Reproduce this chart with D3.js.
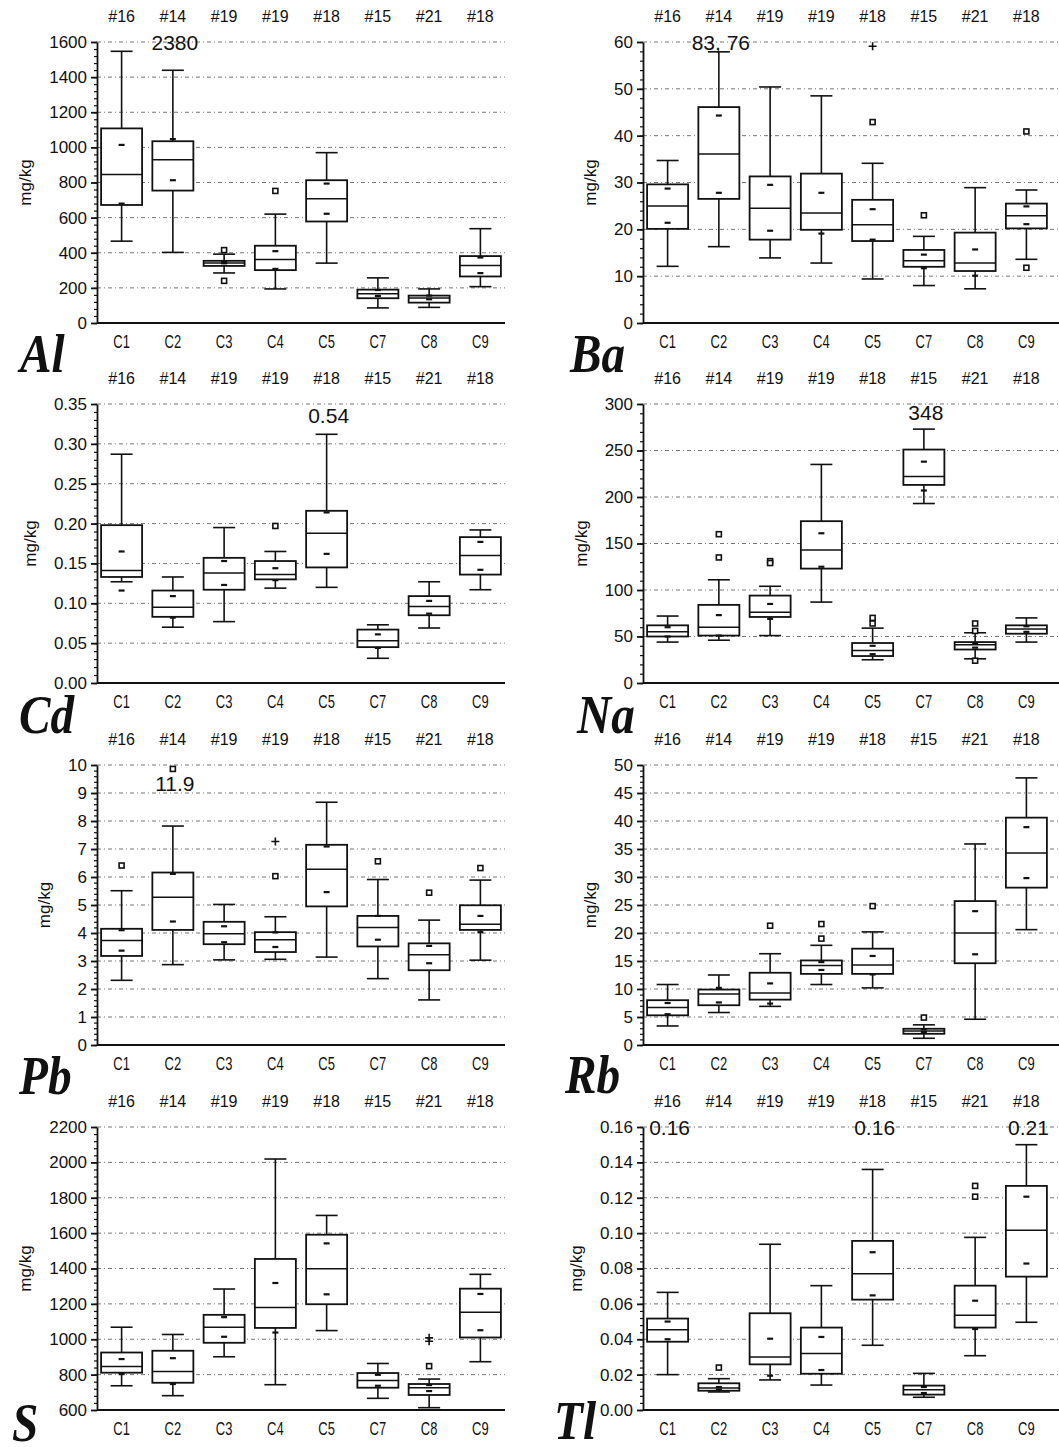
<!DOCTYPE html>
<meta charset="utf-8">
<style>
body{margin:0;background:#fff;}
text{font-family:"Liberation Sans",Arial,sans-serif;fill:#111;}
.axis path,.axis line{stroke:#111;stroke-width:1.8px;}
.axis text{font-size:17px;}
.minor path{stroke:none;}
.minor line{stroke:#111;stroke-width:1.2px;}
.grid line{stroke:#777;stroke-width:1px;stroke-dasharray:4,3,1,3;}
.xline{stroke:#111;stroke-width:2px;}
.wh{stroke:#111;stroke-width:1.6px;}
.box{fill:#fff;stroke:#111;stroke-width:1.8px;}
.med{stroke:#111;stroke-width:1.5px;}
.mark{stroke:#111;stroke-width:2.2px;}
.sq{fill:#fff;stroke:#111;stroke-width:1.6px;}
.plus{stroke:#111;stroke-width:1.6px;fill:none;}
.count{font-size:16px;text-anchor:middle;}
.cat{font-size:18px;text-anchor:middle;}
.note{font-size:21px;text-anchor:middle;}
.unit{font-size:17px;text-anchor:middle;}
.elem{font-family:"Liberation Serif","Times New Roman",serif;font-weight:bold;font-style:italic;font-size:55px;}
</style>
<body>
<script src="https://cdn.jsdelivr.net/npm/d3@7"></script>
<script>

var cats = ["C1","C2","C3","C4","C5","C7","C8","C9"];
var counts = ["#16","#14","#19","#19","#18","#15","#21","#18"];

// box rows: [low whisker, q1, median, q3, high whisker], marks: the two short dashes
var alBox = [[466,672,845,1108,1547],[402,754,930,1035,1439],[285,325,341,354,392],[194,301,362,440,620],
             [341,578,708,813,970],[86,141,167,190,257],[89,116,143,156,194],[207,265,327,381,537]];
var alMarks = [[680,1014],[813,1047],[340,348],[308,409],[622,794],[154,188],[135,156],[284,373]];
var alOut = [["C3",415,"sq"],["C3",240,"sq"],["C4",752,"sq"]];
var alNote = [["C2","2380",1554]];

var baBox = [[12.1,20.1,25.0,29.6,34.7],[16.3,26.5,36.1,46.1,57.9],[13.9,17.8,24.5,31.3,50.4],[12.8,19.9,23.5,31.9,48.5],
             [9.4,17.5,21.0,26.3,34.1],[8.0,12.0,13.3,15.6,18.5],[7.3,11.1,12.8,19.3,28.9],[13.6,20.2,22.9,25.5,28.4]];
var baMarks = [[21.4,28.7],[27.8,44.3],[19.7,29.5],[19.1,27.8],[17.8,24.3],[11.7,14.6],[10.1,15.7],[21.1,24.9]];
var baOut = [["C5",42.9,"sq"],["C5",59.1,"plus"],["C7",23.0,"sq"],["C9",40.9,"sq"],["C9",11.8,"sq"]];
var baNote = [["C2","83, 76",58.3]];

var cdBox = [[0.127,0.133,0.141,0.198,0.287],[0.070,0.083,0.095,0.116,0.133],[0.077,0.117,0.138,0.157,0.195],[0.119,0.130,0.136,0.153,0.165],
             [0.120,0.145,0.188,0.216,0.312],[0.031,0.045,0.053,0.067,0.073],[0.069,0.085,0.096,0.109,0.127],[0.117,0.136,0.160,0.183,0.192]];
var cdMarks = [[0.116,0.165],[0.082,0.109],[0.123,0.153],[0.129,0.144],[0.162,0.214],[0.044,0.061],[0.087,0.103],[0.142,0.177]];
var cdOut = [["C4",0.197,"sq"]];
var cdNote = [["C5","0.54",0.326]];

var naBox = [[44,50,55,62,72],[46,51,60,84,111],[51,71,76,94,104],[87,123,143,174,235],
             [25,29,35,43,59],[193,213,222,251,273],[26,36,41,44,54],[44,53,58,62,70]];
var naMarks = [[50,60],[51,73],[69,85],[125,161],[31,40],[207,238],[38,43],[55,61]];
var naOut = [["C2",160,"sq"],["C2",135,"sq"],["C3",131,"sq"],["C3",129,"sq"],["C5",70,"sq"],["C5",64,"sq"],
             ["C8",64,"sq"],["C8",56,"sq"],["C8",24,"sq"]];
var naNote = [["C7","348",283]];

var pbBox = [[2.31,3.18,3.73,4.15,5.51],[2.87,4.11,5.28,6.16,7.82],[3.04,3.60,3.97,4.40,5.02],[3.06,3.32,3.76,4.03,4.58],
             [3.14,4.95,6.28,7.15,8.67],[2.37,3.52,4.20,4.61,5.91],[1.61,2.67,3.22,3.63,4.46],[3.03,4.11,4.31,4.99,5.89]];
var pbMarks = [[3.37,4.10],[4.41,6.11],[3.67,4.24],[3.50,4.02],[5.46,7.09],[3.76,4.61],[2.92,3.54],[4.03,4.61]];
var pbOut = [["C1",6.41,"sq"],["C2",9.86,"sq"],["C4",6.03,"sq"],["C4",7.27,"plus"],["C7",6.56,"sq"],["C8",5.44,"sq"],["C9",6.32,"sq"]];
var pbNote = [["C2","11.9",9.07]];

var rbBox = [[3.4,5.3,6.7,8.0,10.8],[5.8,7.1,9.1,9.9,12.5],[6.9,8.1,9.3,12.9,16.3],[10.8,12.7,14.2,15.1,17.8],
             [10.2,12.7,14.3,17.2,20.2],[1.2,2.0,2.5,2.9,3.6],[4.6,14.6,20.0,25.7,35.9],[20.6,28.1,34.3,40.6,47.7]];
var rbMarks = [[5.5,7.5],[7.6,10.2],[7.4,11.0],[13.4,14.8],[12.6,15.9],[2.3,2.8],[16.2,23.9],[29.8,38.9]];
var rbOut = [["C3",21.3,"sq"],["C4",21.6,"sq"],["C4",19.0,"sq"],["C5",24.8,"sq"],["C7",4.9,"sq"]];
var rbNote = [];

var sBox = [[737,811,846,925,1068],[681,754,818,935,1027],[901,980,1068,1138,1284],[743,1064,1179,1454,2019],
            [1049,1198,1399,1591,1700],[666,726,767,809,863],[613,685,726,747,775],[873,1010,1153,1286,1367]];
var sMarks = [[803,888],[747,893],[1014,1125],[1038,1318],[1254,1542],[737,799],[707,741],[1051,1256]];
var sOut = [["C8",848,"sq"],["C8",1008,"plus"],["C8",989,"plus"]];
var sNote = [];

var tlBox = [[0.0200,0.0386,0.0454,0.0517,0.0665],[0.0102,0.0109,0.0124,0.0151,0.0177],[0.0170,0.0258,0.0300,0.0547,0.0937],
             [0.0141,0.0205,0.0319,0.0466,0.0703],[0.0366,0.0624,0.0771,0.0956,0.136],[0.0072,0.0087,0.0115,0.0138,0.0207],
             [0.0307,0.0466,0.0535,0.0703,0.0976],[0.0496,0.0754,0.1016,0.1267,0.150]];
var tlMarks = [[0.040,0.050],[0.0115,0.013],[0.0194,0.0403],[0.0226,0.0413],[0.0648,0.0892],[0.0096,0.013],[0.0458,0.0618],[0.0828,0.1206]];
var tlOut = [["C2",0.024,"sq"],["C8",0.1267,"sq"],["C8",0.1206,"sq"]];
var tlNote = [["C1","0.16",0.1555],["C5","0.16",0.1555],["C9","0.21",0.1555]];

var panels = [
  {name:"Al", box:alBox, marks:alMarks, out:alOut, notes:alNote, min:0, max:1600, step:200, fmt:"d",   col:0, row:0, lx:20,  ly:372},
  {name:"Ba", box:baBox, marks:baMarks, out:baOut, notes:baNote, min:0, max:60,   step:10,  fmt:"d",   col:1, row:0, lx:570, ly:372},
  {name:"Cd", box:cdBox, marks:cdMarks, out:cdOut, notes:cdNote, min:0, max:0.35, step:0.05,fmt:".2f", col:0, row:1, lx:19,  ly:733},
  {name:"Na", box:naBox, marks:naMarks, out:naOut, notes:naNote, min:0, max:300,  step:50,  fmt:"d",   col:1, row:1, lx:577, ly:733},
  {name:"Pb", box:pbBox, marks:pbMarks, out:pbOut, notes:pbNote, min:0, max:10,   step:1,   fmt:"d",   col:0, row:2, lx:19,  ly:1094},
  {name:"Rb", box:rbBox, marks:rbMarks, out:rbOut, notes:rbNote, min:0, max:50,   step:5,   fmt:"d",   col:1, row:2, lx:565, ly:1093},
  {name:"S",  box:sBox,  marks:sMarks,  out:sOut,  notes:sNote,  min:600, max:2200, step:200, fmt:"d", col:0, row:3, lx:12,  ly:1441},
  {name:"Tl", box:tlBox, marks:tlMarks, out:tlOut, notes:tlNote, min:0, max:0.16, step:0.02,fmt:".2f", col:1, row:3, lx:554, ly:1439}
];

var svg = d3.select("body").append("svg").attr("width",1059).attr("height",1447);

var colX = [97, 643], colEnd = [505, 1059];
var rowTop = [42, 404, 765, 1127], rowBot = [323, 683, 1045, 1410];

panels.forEach(function(p){
  var x0 = colX[p.col], x1 = colEnd[p.col], top = rowTop[p.row], bot = rowBot[p.row];
  var g = svg.append("g");
  var x = d3.scaleBand().domain(cats).range([x0, x0 + 408]).paddingInner(0.2).paddingOuter(0.08);
  var y = d3.scaleLinear().domain([p.min, p.max]).range([bot, top]);
  var bw = x.bandwidth(), cx = function(c){ return x(c) + bw / 2; };
  var n = Math.round((p.max - p.min) / p.step);
  var major = d3.range(n + 1).map(function(i){ return p.min + i * p.step; });
  var minor = d3.range(n * 5 + 1).map(function(i){ return p.min + i * p.step / 5; });

  g.append("g").attr("class","grid").selectAll("line").data(major.slice(1)).join("line")
    .attr("x1", x0).attr("x2", x1).attr("y1", y).attr("y2", y);

  g.append("g").attr("class","axis minor").attr("transform","translate(" + x0 + ",0)")
    .call(d3.axisLeft(y).tickValues(minor).tickSize(3).tickSizeOuter(0).tickFormat(""));
  var ax = g.append("g").attr("class","axis").attr("transform","translate(" + x0 + ",0)")
    .call(d3.axisLeft(y).tickValues(major).tickSize(6).tickSizeOuter(0).tickPadding(4).tickFormat(d3.format(p.fmt)));

  g.append("line").attr("class","xline").attr("x1", x0).attr("x2", x1).attr("y1", bot).attr("y2", bot);

  var bb = ax.node().getBBox();
  g.append("text").attr("class","unit")
    .attr("transform","translate(" + (x0 + bb.x - 18) + "," + ((top + bot) / 2) + ") rotate(-90)")
    .text("mg/kg");

  g.selectAll(".count").data(counts).join("text").attr("class","count")
    .attr("x", function(d, i){ return cx(cats[i]); }).attr("y", top - 20).text(function(d){ return d; });
  g.selectAll(".cat").data(cats).join("text").attr("class","cat")
    .attr("transform", function(d){ return "translate(" + cx(d) + "," + (bot + 25) + ") scale(0.72,1)"; })
    .text(function(d){ return d; });

  var b = g.selectAll(".bx").data(p.box).join("g").attr("class","bx")
    .attr("transform", function(d, i){ return "translate(" + cx(cats[i]) + ",0)"; });
  b.append("line").attr("class","wh").attr("y1", function(d){ return y(d[0]); }).attr("y2", function(d){ return y(d[4]); });
  b.append("line").attr("class","wh").attr("x1",-11).attr("x2",11)
    .attr("y1", function(d){ return y(d[0]); }).attr("y2", function(d){ return y(d[0]); });
  b.append("line").attr("class","wh").attr("x1",-11).attr("x2",11)
    .attr("y1", function(d){ return y(d[4]); }).attr("y2", function(d){ return y(d[4]); });
  b.append("rect").attr("class","box").attr("x", -bw / 2).attr("width", bw)
    .attr("y", function(d){ return y(d[3]); }).attr("height", function(d){ return y(d[1]) - y(d[3]); });
  b.append("line").attr("class","med").attr("x1", -bw / 2).attr("x2", bw / 2)
    .attr("y1", function(d){ return y(d[2]); }).attr("y2", function(d){ return y(d[2]); });

  b.each(function(d, i){
    d3.select(this).selectAll(".mark").data(p.marks[i]).join("line").attr("class","mark")
      .attr("x1",-3).attr("x2",3).attr("y1", y).attr("y2", y);
  });

  g.selectAll(".sq").data(p.out.filter(function(o){ return o[2] == "sq"; })).join("rect").attr("class","sq")
    .attr("x", function(d){ return cx(d[0]) - 2.5; }).attr("y", function(d){ return y(d[1]) - 2.5; })
    .attr("width",5).attr("height",5);
  g.selectAll(".plus").data(p.out.filter(function(o){ return o[2] == "plus"; })).join("path").attr("class","plus")
    .attr("d", function(d){ var px = cx(d[0]), py = y(d[1]);
      return "M" + (px - 4) + "," + py + "H" + (px + 4) + "M" + px + "," + (py - 4) + "V" + (py + 4); });

  g.selectAll(".note").data(p.notes).join("text").attr("class","note")
    .attr("x", function(d){ return cx(d[0]) + 2; }).attr("y", function(d){ return y(d[2]); })
    .text(function(d){ return d[1]; });

  svg.append("text").attr("class","elem")
    .attr("transform","translate(" + p.lx + "," + p.ly + ") scale(0.86,1)").text(p.name);
});
</script>
</body>
</html>
